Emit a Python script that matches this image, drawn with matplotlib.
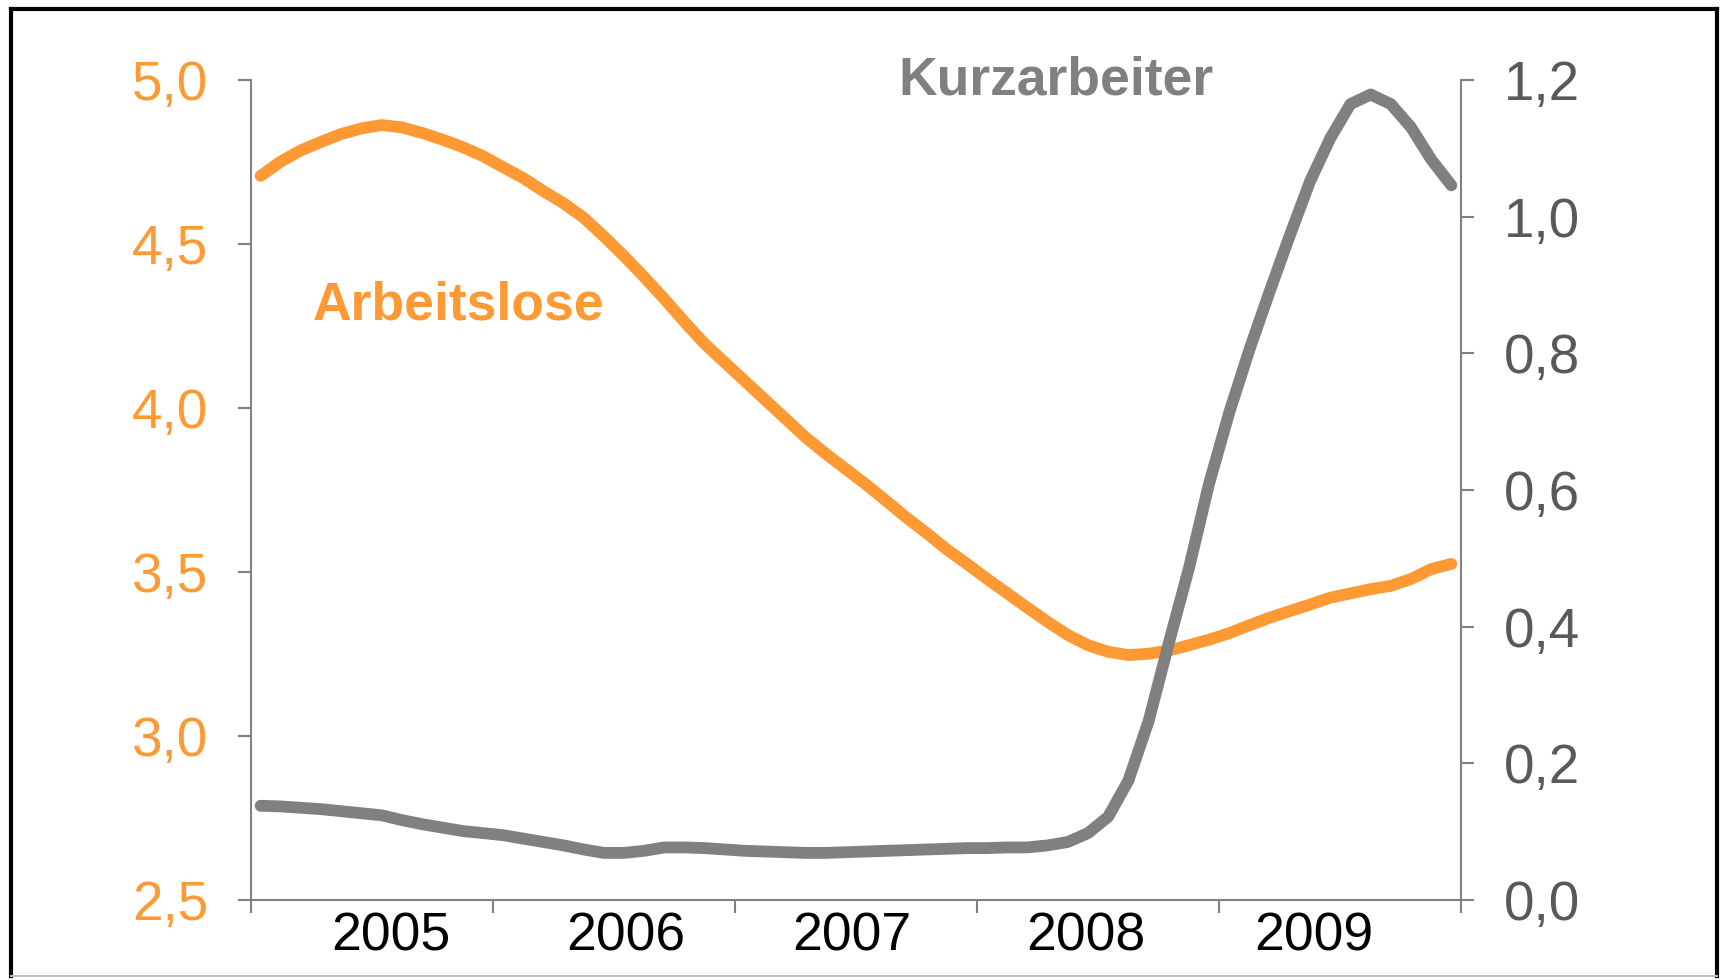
import matplotlib
matplotlib.use('Agg')
import matplotlib.pyplot as plt
from matplotlib.lines import Line2D
from matplotlib.ticker import FuncFormatter

# Monatswerte (gleitender Trend), in Millionen
arbeitslose = [4.708, 4.752, 4.786, 4.812, 4.836, 4.853, 4.863, 4.856, 4.839, 4.819,
               4.796, 4.769, 4.735, 4.702, 4.662, 4.625, 4.581, 4.524, 4.464, 4.400,
               4.333, 4.263, 4.196, 4.139, 4.082, 4.025, 3.968, 3.911, 3.861, 3.814,
               3.767, 3.717, 3.666, 3.619, 3.569, 3.525, 3.479, 3.435, 3.391, 3.348,
               3.308, 3.277, 3.257, 3.247, 3.251, 3.261, 3.277, 3.294, 3.314, 3.338,
               3.361, 3.381, 3.401, 3.422, 3.435, 3.448, 3.458, 3.479, 3.509, 3.525]
kurzarbeiter = [0.138, 0.137, 0.135, 0.133, 0.130, 0.127, 0.124, 0.117, 0.111, 0.106,
                0.101, 0.098, 0.095, 0.090, 0.085, 0.080, 0.074, 0.069, 0.069, 0.072,
                0.077, 0.077, 0.076, 0.074, 0.072, 0.071, 0.070, 0.069, 0.069, 0.070,
                0.071, 0.072, 0.073, 0.074, 0.075, 0.076, 0.076, 0.077, 0.077, 0.080,
                0.085, 0.098, 0.122, 0.175, 0.262, 0.376, 0.486, 0.610, 0.714, 0.806,
                0.891, 0.973, 1.052, 1.115, 1.165, 1.179, 1.165, 1.131, 1.084, 1.046]
jahre = ['2005', '2006', '2007', '2008', '2009']
links_ticks = [2.5, 3.0, 3.5, 4.0, 4.5, 5.0]
rechts_ticks = [0.0, 0.2, 0.4, 0.6, 0.8, 1.0, 1.2]

# Layout
jahr_pos = [6.47, 18.1, 29.3, 40.9, 52.2]
grenzen = [-0.5, 11.5, 23.5, 35.5, 47.5, 59.5]

ORANGE = '#FF9933'
GREY = '#808080'
DARKGREY = '#595959'

plt.rcParams['font.family'] = ['Liberation Sans', 'DejaVu Sans']


def komma(v, pos):
    return ('%.1f' % v).replace('.', ',')


def main():
    fig = plt.figure(figsize=(17.23, 9.80), dpi=100)
    ax = fig.add_axes([0.1454, 0.0816, 0.7028, 0.8366])
    ax2 = ax.twinx()

    x = range(len(arbeitslose))
    ax.plot(x, arbeitslose, color=ORANGE, lw=8.5, solid_capstyle='round',
            solid_joinstyle='round')
    ax2.plot(x, kurzarbeiter, color=GREY, lw=8.5, solid_capstyle='round',
             solid_joinstyle='round')

    ax.set_xlim(-0.5, 59.5)
    ax.set_ylim(2.5, 5.0)
    ax2.set_ylim(0.0, 1.2)

    # Achsen
    for s in ['top', 'right']:
        ax.spines[s].set_visible(False)
    for s in ['top', 'left', 'bottom']:
        ax2.spines[s].set_visible(False)
    ax.spines['left'].set_color(GREY)
    ax.spines['bottom'].set_color(GREY)
    ax2.spines['right'].set_color(GREY)
    for sp in [ax.spines['left'], ax.spines['bottom'], ax2.spines['right']]:
        sp.set_linewidth(1.5)

    ax.set_yticks(links_ticks)
    ax.yaxis.set_major_formatter(FuncFormatter(komma))
    ax.tick_params(axis='y', direction='out', length=9.5, width=1.5, color=GREY,
                   labelcolor=ORANGE, labelsize=39.5, pad=21)
    ax2.set_yticks(rechts_ticks)
    ax2.yaxis.set_major_formatter(FuncFormatter(komma))
    ax2.tick_params(axis='y', direction='out', length=9.5, width=1.5, color=GREY,
                    labelcolor=DARKGREY, labelsize=39.5, pad=21)

    ax.set_xticks(grenzen)
    ax.set_xticklabels([])
    ax.tick_params(axis='x', which='major', direction='out', length=9.5, width=1.5,
                   color=GREY)
    ax.set_xticks(jahr_pos, minor=True)
    ax.set_xticklabels(jahre, minor=True)
    ax.tick_params(axis='x', which='minor', length=0, pad=8, labelsize=38.5,
                   labelcolor='black')

    # Beschriftungen
    ax.text(0.172, 0.7256, 'Arbeitslose', transform=ax.transAxes, color=ORANGE,
            fontsize=38.5, fontweight='bold', ha='center', va='center')
    ax.text(0.665, 1.0, 'Kurzarbeiter', transform=ax.transAxes, color=GREY,
            fontsize=38.5, fontweight='bold', ha='center', va='center')

    # Rahmen
    fig.add_artist(Line2D([0.0064, 0.0064], [0.0041, 0.9908], color='black', lw=3))
    fig.add_artist(Line2D([0.0064, 0.9965], [0.9908, 0.9908], color='black', lw=3))
    fig.add_artist(Line2D([0.9965, 0.9965], [0.0041, 0.9908], color='black', lw=3))
    fig.add_artist(Line2D([0.0064, 0.9965], [0.0041, 0.0041], color='#C0C0C0', lw=1.5))

    fig.savefig('out.png', dpi=100)


if __name__ == '__main__':
    main()
